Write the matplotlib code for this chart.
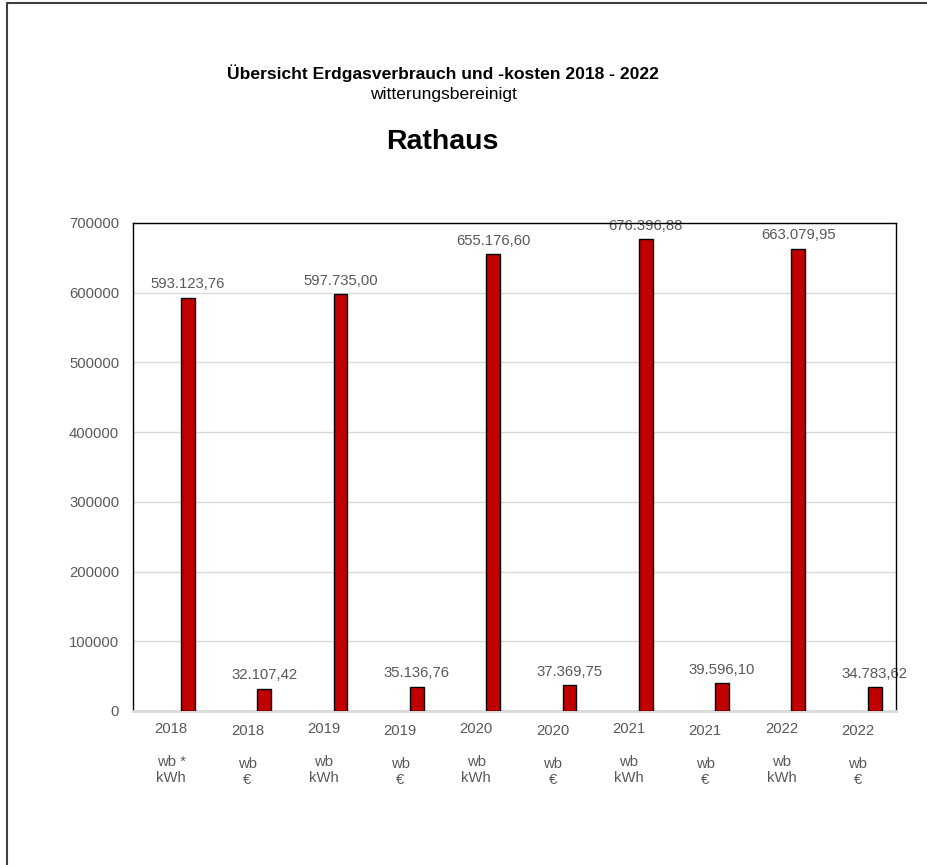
import matplotlib.pyplot as plt
from matplotlib.patches import Rectangle

plt.rcParams['font.family'] = ['Liberation Sans', 'DejaVu Sans']

# Data #
years    = ["2018", "2018", "2019", "2019", "2020", "2020", "2021", "2021", "2022", "2022"]
units    = ["wb *\nkWh", "wb\n€", "wb\nkWh", "wb\n€", "wb\nkWh", "wb\n€",
            "wb\nkWh", "wb\n€", "wb\nkWh", "wb\n€"]
values   = [593123.76, 32107.42, 597735.00, 35136.76, 655176.60,
            37369.75, 676396.88, 39596.10, 663079.95, 34783.62]
y_ticks  = [0, 100000, 200000, 300000, 400000, 500000, 600000, 700000]

GRAY = "#595959"
FS = 10.7


def de_format(v):
    s = f"{v:,.2f}"
    return s.replace(",", "X").replace(".", ",").replace("X", ".")


# Plotting #
fig = plt.figure(figsize=(9.27, 8.65), dpi=100)
fig.patches.append(Rectangle((7 / 927, -0.1), 1.2, 1.1 - 3 / 865, transform=fig.transFigure,
                             fill=False, edgecolor="#404040", linewidth=1.5))

ax = fig.add_axes([133 / 927, 1 - 711 / 865, 763 / 927, 488 / 865])

x = list(range(len(values)))
bar_x = [i + 0.22 for i in x]
ax.bar(bar_x, values, width=0.18, color="#C00000", edgecolor="black", linewidth=1, zorder=3)

for bx, v in zip(bar_x, values):
    ax.annotate(de_format(v), (bx, v), xytext=(0, 4.5), textcoords="offset points",
                ha="center", va="bottom", fontsize=FS, color=GRAY, zorder=2)

ax.set_xlim(-0.5, len(values) - 0.5)
ax.set_ylim(0, 700000)
ax.set_yticks(y_ticks)
ax.set_yticklabels([str(t) for t in y_ticks], fontsize=FS, color=GRAY)
ax.yaxis.grid(True, color="#d9d9d9", linewidth=1, zorder=0)
ax.set_axisbelow(True)

ax.set_xticks(x)
ax.set_xticklabels([f"{y}\n\n{u}" for y, u in zip(years, units)],
                   fontsize=FS, color=GRAY, linespacing=1.2, va="top")
for i, tick in enumerate(ax.xaxis.get_major_ticks()):
    tick.set_pad(8 if i % 2 == 0 else 9.5)
ax.tick_params(axis="both", length=0)
ax.tick_params(axis="y", pad=10)

for side in ["left", "top", "right"]:
    ax.spines[side].set_color("black")
    ax.spines[side].set_linewidth(1)
ax.spines["bottom"].set_color("#d9d9d9")
ax.spines["bottom"].set_linewidth(2)

fig.text(443 / 927, 1 - 73 / 865, "Übersicht Erdgasverbrauch und -kosten 2018 - 2022",
         ha="center", va="center", fontsize=12.6, fontweight="bold")
fig.text(443 / 927, 1 - 94 / 865, "witterungsbereinigt",
         ha="center", va="center", fontsize=12.6)
fig.text(442 / 927, 1 - 142 / 865, "Rathaus",
         ha="center", va="center", fontsize=20.5, fontweight="bold")

fig.savefig("out.png", dpi=100)
